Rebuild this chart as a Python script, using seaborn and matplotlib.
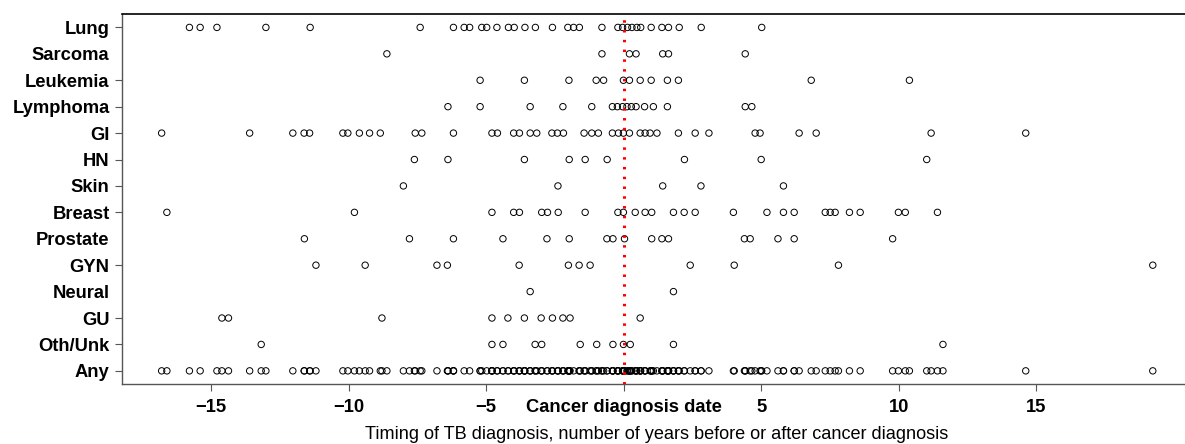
import numpy as np
import pandas as pd
import matplotlib
matplotlib.use("Agg")
import matplotlib.pyplot as plt
import seaborn as sns

# ---- data (years from cancer diagnosis to TB diagnosis) ----
categories = ["Lung", "Sarcoma", "Leukemia", "Lymphoma", "GI", "HN", "Skin",
              "Breast", "Prostate", "GYN", "Neural", "GU", "Oth/Unk", "Any"]

lung = [-15.79, -15.4, -14.79, -13.01, -11.4, -7.4, -6.19, -5.8, -5.6, -5.16, -4.98,
        -4.61, -4.19, -3.98, -3.59, -3.21, -2.59, -2.03, -1.82, -1.61, -0.79, -0.21,
        -0.04, 0.14, 0.30, 0.48, 0.62, 1.0, 1.39, 1.63, 2.02, 2.82, 5.02]
sarcoma = [-8.61, -0.79, 0.21, 0.45, 1.42, 1.63, 4.42]
leukemia = [-5.22, -3.61, -1.99, -1.0, -0.73, -0.01, 0.21, 0.6, 1.0, 1.59, 1.99,
            6.82, 10.39]
lymphoma = [-6.39, -5.22, -3.4, -2.21, -1.16, -0.41, -0.23, -0.04, 0.12, 0.28, 0.45,
            0.76, 1.08, 1.59, 4.42, 4.66]
gi = [-16.8, -13.6, -12.03, -11.62, -11.42, -10.21, -10.03, -9.61, -9.24, -8.85,
      -7.58, -7.34, -6.19, -4.79, -4.59, -4.0, -3.79, -3.4, -3.16, -2.61, -2.41,
      -2.19, -1.44, -1.16, -0.92, -0.41, -0.19, -0.01, 0.21, 0.6, 0.78, 0.96, 1.21,
      1.99, 2.6, 3.1, 4.78, 4.96, 6.38, 7.0, 11.18, 14.62]
hn = [-7.61, -6.39, -3.61, -1.98, -1.4, -0.6, 2.21, 5.0, 11.02]
skin = [-8.01, -2.39, 1.42, 2.81, 5.81]
breast = [-16.61, -9.79, -4.79, -4.0, -3.79, -2.98, -2.77, -2.38, -1.4, -0.21, -0.01,
          0.42, 0.78, 1.02, 1.81, 2.2, 2.6, 3.99, 5.21, 5.81, 6.2, 7.33, 7.51, 7.69,
          8.21, 8.6, 9.99, 10.24, 11.41]
prostate = [-11.61, -7.79, -6.19, -4.39, -2.79, -1.98, -0.61, -0.39, 0.03, 1.02, 1.39,
            1.63, 4.39, 4.6, 5.61, 6.2, 9.78]
gyn = [-11.19, -9.4, -6.79, -6.41, -3.8, -2.01, -1.62, -1.22, 2.42, 4.02, 7.81, 19.24]
neural = [-3.4, 1.81]
gu = [-14.61, -14.37, -8.79, -4.79, -4.21, -3.61, -3.0, -2.59, -2.21, -1.95, 0.6]
oth_unk = [-13.18, -4.79, -4.39, -3.22, -2.98, -1.58, -0.98, -0.39, -0.01, 0.24,
           1.81, 11.61]

series = [lung, sarcoma, leukemia, lymphoma, gi, hn, skin, breast, prostate, gyn,
          neural, gu, oth_unk]
any_site = [v for s in series for v in s]
series.append(any_site)

xtick_values = [-15, -10, -5, 0, 5, 10, 15]
xtick_labels = ["\u221215", "\u221210", "\u22125", "Cancer diagnosis date", "5", "10", "15"]
xlabel = "Timing of TB diagnosis, number of years before or after cancer diagnosis"

rows = []
for cat, vals in zip(categories, series):
    for v in vals:
        rows.append({"site": cat, "years": v})
df = pd.DataFrame(rows)

# ---- styling ----
sns.set_style("white")
plt.rcParams["font.family"] = ["Liberation Sans", "DejaVu Sans"]
plt.rcParams["text.color"] = "black"
plt.rcParams["axes.labelcolor"] = "black"
plt.rcParams["xtick.color"] = "black"
plt.rcParams["ytick.color"] = "black"

fig = plt.figure(figsize=(11.85, 4.44), dpi=100)
ax = fig.add_axes([0.103, 0.135, 0.903, 0.833])

sns.stripplot(data=df, x="years", y="site", order=categories, orient="h",
              jitter=False, marker="o", size=4.6, facecolor="none",
              edgecolor="black", linewidth=0.7, ax=ax, zorder=2)

ax.axvline(0, color="red", lw=2.2, linestyle=(0, (0.8, 2.4)), zorder=3)

ax.set_xlim(-18.24, 20.67)
ax.set_ylim(13.5, -0.5)

ax.set_xticks(xtick_values)
ax.set_xticklabels(xtick_labels, fontsize=13.2, fontweight="bold", color="black")
ax.set_yticks(range(len(categories)))
ax.set_yticklabels(categories, fontsize=13.2, fontweight="bold", color="black")
ax.tick_params(axis="x", direction="out", length=5, width=0.8, pad=6, color="#555555",
               bottom=True)
ax.tick_params(axis="y", direction="out", length=5, width=0.8, pad=4, color="#555555",
               left=True)
for i, cat in enumerate(categories):
    if cat in ("Sarcoma", "Prostate", "Neural"):
        ax.yaxis.get_major_ticks()[i].tick1line.set_visible(False)

ax.set_xlabel(xlabel, fontsize=13.1, labelpad=7, color="black")
ax.set_ylabel("")

ax.spines["right"].set_visible(False)
ax.spines["top"].set_color("black")
ax.spines["top"].set_linewidth(1.2)
for s in ("left", "bottom"):
    ax.spines[s].set_color("#555555")
    ax.spines[s].set_linewidth(1.0)

fig.savefig("out.png", dpi=100)
